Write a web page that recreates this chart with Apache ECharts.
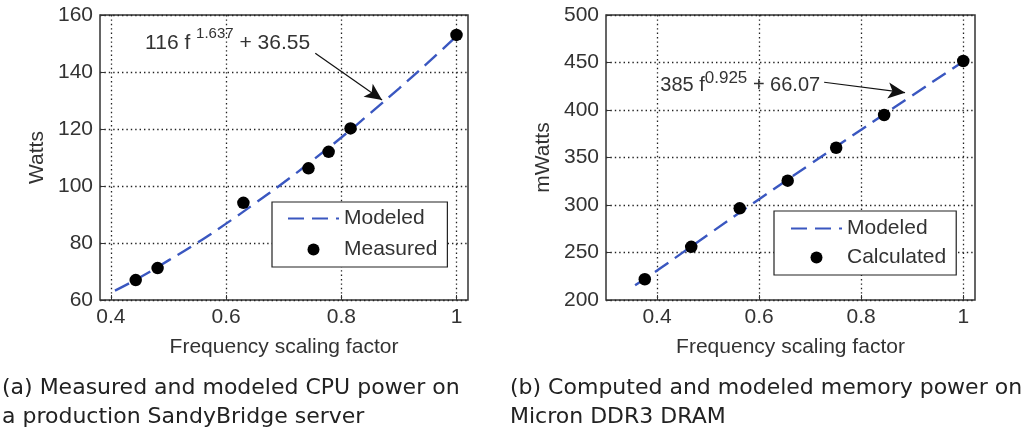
<!DOCTYPE html>
<html>
<head>
<meta charset="utf-8">
<script src="https://cdn.jsdelivr.net/npm/echarts@6/dist/echarts.min.js"></script>
<style>
  html, body { margin: 0; padding: 0; background: #fff; }
  #main { width: 1029px; height: 428px; }
</style>
</head>
<body>
<div id="main"></div>
<script>
// (a) CPU power
var cpuFreq = [0.443, 0.481, 0.630, 0.743, 0.778, 0.816, 1.0];
var cpuWatts = [67, 71.2, 94.1, 106.2, 112, 120.2, 153];
var cpuModelFreq = [0.407, 0.45, 0.5, 0.55, 0.6, 0.65, 0.7, 0.75, 0.8, 0.85, 0.9, 0.95, 1.0];
var cpuModelWatts = [63.3, 67.9, 73.9, 80.1, 86.8, 93.9, 101.2, 109.0, 117.0, 125.5, 134.2, 143.2, 152.6];

// (b) memory power
var memFreq = [0.376, 0.467, 0.562, 0.656, 0.751, 0.845, 1.0];
var memMWatts = [221.8, 256, 296.5, 325.6, 360.3, 394.7, 451.6];
var memModelFreq = [0.357, 0.4, 0.5, 0.6, 0.7, 0.8, 0.9, 1.0];
var memModelMWatts = [215.5, 231.0, 268.8, 306.1, 342.9, 379.3, 415.3, 451.1];

var xTicks = [0.4, 0.6, 0.8, 1];

var FONT = '"Liberation Sans", Arial, Helvetica, sans-serif';
var CAPFONT = '"DejaVu Sans", sans-serif';
var TXT = '#333';
var BLUE = '#3a57c0';
var DOTS = { type: [1.4, 3], color: '#222', width: 1.3 };

function pairs(xs, ys) {
  var out = [];
  for (var i = 0; i < xs.length; i++) {
    out.push([xs[i], ys[i]]);
  }
  return out;
}

function makeX(idx, min, max) {
  return {
    gridIndex: idx,
    type: 'value',
    min: min,
    max: max,
    name: 'Frequency scaling factor',
    nameLocation: 'middle',
    nameGap: 37,
    nameTextStyle: { fontFamily: FONT, fontSize: 21, color: TXT },
    axisLine: { show: false },
    axisTick: { show: true, inside: true, length: 5, customValues: xTicks, lineStyle: { color: '#333' } },
    axisLabel: { customValues: xTicks, margin: 7, fontFamily: FONT, fontSize: 21, color: TXT },
    splitLine: { show: true, lineStyle: DOTS }
  };
}

function makeY(idx, name, min, max, step) {
  return {
    gridIndex: idx,
    type: 'value',
    min: min,
    max: max,
    interval: step,
    name: name,
    nameLocation: 'middle',
    nameGap: 52,
    nameTextStyle: { fontFamily: FONT, fontSize: 21, color: TXT },
    axisLine: { show: false },
    axisTick: { show: true, inside: true, length: 5, lineStyle: { color: '#333' } },
    axisLabel: { margin: 7, fontFamily: FONT, fontSize: 21, color: TXT },
    splitLine: { show: true, lineStyle: DOTS }
  };
}

// legend line icon: hide the middle dot the line series adds
function makeLegend(left, top, lineName, dotName, gap, pad) {
  return {
    orient: 'vertical',
    left: left,
    top: top,
    data: [
      { name: lineName, itemStyle: { color: 'rgba(0,0,0,0)', borderWidth: 0, opacity: 0 } },
      { name: dotName }
    ],
    itemWidth: 51,
    itemHeight: 12,
    itemGap: gap,
    padding: pad,
    backgroundColor: '#fff',
    borderColor: '#222',
    borderWidth: 1.2,
    borderRadius: 0,
    selectedMode: false,
    textStyle: { fontFamily: FONT, fontSize: 21, color: TXT }
  };
}

function arrow(from, to) {
  return {
    silent: true,
    symbol: ['none', 'arrow'],
    symbolSize: [12, 17],
    label: { show: false },
    lineStyle: { color: '#111', width: 1.2, type: 'solid' },
    itemStyle: { color: '#111' },
    emphasis: { disabled: true },
    data: [[{ coord: from }, { coord: to }]]
  };
}

function equation(at, text, mainSize, supSize, lineH) {
  return {
    silent: true,
    symbol: 'circle',
    symbolSize: 0,
    data: [{
      coord: at,
      label: {
        show: true,
        position: 'inside',
        formatter: text,
        rich: {
          a: { fontFamily: FONT, fontSize: mainSize, lineHeight: lineH, color: TXT, verticalAlign: 'middle' },
          s: { fontFamily: FONT, fontSize: supSize, lineHeight: supSize, color: TXT, verticalAlign: 'top' }
        }
      }
    }]
  };
}

var chart = echarts.init(document.getElementById('main'), null, { renderer: 'canvas' });

var capStyle = { fontFamily: CAPFONT, fontSize: 22, fontWeight: 'normal', lineHeight: 29, color: '#222' };

var option = {
  animation: false,
  backgroundColor: '#fff',
  title: [{
    text: '(a) Measured and modeled CPU power on\na production SandyBridge server',
    left: 2,
    top: 374,
    padding: 0,
    textStyle: capStyle
  }, {
    text: '(b) Computed and modeled memory power on\nMicron DDR3 DRAM',
    left: 510,
    top: 374,
    padding: 0,
    textStyle: capStyle
  }],
  grid: [
    { left: 100, top: 15, width: 368, height: 285, show: true, borderColor: '#333', borderWidth: 1.5, backgroundColor: 'transparent' },
    { left: 606, top: 15, width: 369, height: 285, show: true, borderColor: '#333', borderWidth: 1.5, backgroundColor: 'transparent' }
  ],
  xAxis: [makeX(0, 0.381, 1.02), makeX(1, 0.3, 1.023)],
  yAxis: [makeY(0, 'Watts', 60, 160, 20), makeY(1, 'mWatts', 200, 500, 50)],
  legend: [
    makeLegend(272, 202, 'Modeled', 'Measured', 10, [6, 10, 7, 15]),
    makeLegend(774, 211, 'Modeled ', 'Calculated', 8, [7, 10, 7, 16])
  ],
  series: [{
    name: 'Modeled',
    type: 'line',
    xAxisIndex: 0,
    yAxisIndex: 0,
    smooth: true,
    symbol: 'none',
    lineStyle: { color: BLUE, width: 2.4, type: [16, 8] },
    itemStyle: { color: BLUE },
    data: pairs(cpuModelFreq, cpuModelWatts),
    markLine: arrow([0.7548, 146.6], [0.8708, 130.2]),
    markPoint: equation([0.6026, 150.2], '{a|116 f }{s|1.637}{a| + 36.55}', 21, 15, 34),
    z: 3
  }, {
    name: 'Measured',
    type: 'scatter',
    xAxisIndex: 0,
    yAxisIndex: 0,
    symbol: 'circle',
    symbolSize: 12.5,
    itemStyle: { color: '#000', opacity: 1 },
    data: pairs(cpuFreq, cpuWatts),
    z: 4
  }, {
    name: 'Modeled ',
    type: 'line',
    xAxisIndex: 1,
    yAxisIndex: 1,
    smooth: true,
    symbol: 'none',
    lineStyle: { color: BLUE, width: 2.4, type: [16, 8] },
    itemStyle: { color: BLUE },
    data: pairs(memModelFreq, memModelMWatts),
    markLine: arrow([0.7274, 429.2], [0.886, 418.2]),
    markPoint: equation([0.563, 426.3], '{a|385 f}{s|0.925}{a| + 66.07}', 20, 17, 30),
    z: 3
  }, {
    name: 'Calculated',
    type: 'scatter',
    xAxisIndex: 1,
    yAxisIndex: 1,
    symbol: 'circle',
    symbolSize: 12.5,
    itemStyle: { color: '#000', opacity: 1 },
    data: pairs(memFreq, memMWatts),
    z: 4
  }]
};

chart.setOption(option);
</script>
</body>
</html>
